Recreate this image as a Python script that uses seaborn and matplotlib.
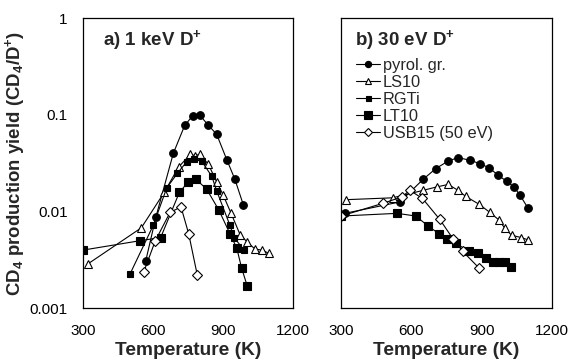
import matplotlib
matplotlib.use("Agg")
import matplotlib.pyplot as plt
from matplotlib.lines import Line2D
from matplotlib.ticker import LogLocator, NullFormatter, MultipleLocator, FixedLocator
import seaborn as sns
import pandas as pd

sns.set_theme(style="white")
plt.rcParams['font.family'] = ['Liberation Sans', 'DejaVu Sans']
plt.rcParams['mathtext.default'] = 'regular'

# ---- data: panel a) 1 keV D+ ----
a_pyrol_T = [569, 613, 687, 736, 770, 801, 836, 873, 916, 951, 987]
a_pyrol_Y = [0.0031, 0.0089, 0.040, 0.078, 0.098, 0.099, 0.079, 0.063, 0.0346, 0.0216, 0.0118]
a_ls10_T = [323, 550, 648, 710, 760, 780, 801, 837, 873, 901, 934, 973, 1002, 1037, 1068, 1097]
a_ls10_Y = [0.0029, 0.0068, 0.0158, 0.029, 0.039, 0.038, 0.039, 0.031, 0.0203, 0.0148, 0.0097,
            0.0058, 0.0049, 0.0041, 0.0040, 0.0037]
a_rgti_T = [501, 601, 659, 704, 744, 776, 809, 852, 873, 930, 948, 990]
a_rgti_Y = [0.00225, 0.0072, 0.0176, 0.0248, 0.0327, 0.0354, 0.0332, 0.0232, 0.0164, 0.0072,
            0.0054, 0.0040]
a_lt10_T = [300, 544, 633, 713, 751, 784, 830, 883, 930, 959, 980, 1004]
a_lt10_Y = [0.0040, 0.0050, 0.0054, 0.0158, 0.0203, 0.0216, 0.0171, 0.0103, 0.0059, 0.0042,
            0.0026, 0.0017]
a_usb_T = [561, 610, 673, 720, 753, 790]
a_usb_Y = [0.0024, 0.0050, 0.0098, 0.0112, 0.0059, 0.0022]

# ---- data: panel b) 30 eV D+ ----
b_pyrol_T = [317, 552, 651, 705, 758, 800, 850, 893, 933, 971, 1007, 1038, 1064, 1099]
b_pyrol_Y = [0.0096, 0.0126, 0.0216, 0.0279, 0.0334, 0.0362, 0.034, 0.0314, 0.0283, 0.0238,
             0.0206, 0.018, 0.0148, 0.0108]
b_ls10_T = [324, 521, 651, 708, 758, 800, 832, 890, 936, 974, 1000, 1028, 1068, 1099]
b_ls10_Y = [0.0133, 0.0139, 0.0166, 0.018, 0.0191, 0.0166, 0.0144, 0.0119, 0.0098, 0.0082,
            0.0067, 0.0057, 0.0054, 0.0051]
b_lt10_T = [300, 540, 620, 672, 719, 753, 789, 847, 883, 919, 950, 975, 1000, 1025]
b_lt10_Y = [0.0090, 0.0096, 0.0090, 0.0071, 0.0059, 0.0052, 0.0047, 0.0039, 0.0037, 0.0033,
            0.0030, 0.0030, 0.0030, 0.0027]
b_usb_T = [300, 480, 560, 594, 648, 722, 779, 819, 890]
b_usb_Y = [0.0090, 0.0122, 0.0142, 0.0166, 0.0137, 0.0083, 0.0052, 0.0039, 0.0026]

labels = ["pyrol. gr.", "LS10", "RGTi", "LT10", "USB15 (50 eV)"]
titles = ["a) 1 keV D$^{+}$", "b) 30 eV D$^{+}$"]
xticks = [300, 600, 900, 1200]
yticks = [0.001, 0.01, 0.1, 1]
ytick_labels = ["0.001", "0.01", "0.1", "1"]

styles = {
    "pyrol. gr.": dict(marker="o", markersize=5.5, markerfacecolor="black"),
    "LS10": dict(marker="^", markersize=6, markerfacecolor="white"),
    "RGTi": dict(marker="s", markersize=4.2, markerfacecolor="black"),
    "LT10": dict(marker="s", markersize=6, markerfacecolor="black"),
    "USB15 (50 eV)": dict(marker="D", markersize=5, markerfacecolor="white"),
}
legend_sizes = {"pyrol. gr.": 4.5, "LS10": 5, "RGTi": 3.6, "LT10": 5.2, "USB15 (50 eV)": 4.3}

panel_a = [(a_pyrol_T, a_pyrol_Y, "pyrol. gr."), (a_ls10_T, a_ls10_Y, "LS10"),
           (a_rgti_T, a_rgti_Y, "RGTi"), (a_lt10_T, a_lt10_Y, "LT10"),
           (a_usb_T, a_usb_Y, "USB15 (50 eV)")]
panel_b = [(b_pyrol_T, b_pyrol_Y, "pyrol. gr."), (b_ls10_T, b_ls10_Y, "LS10"),
           (b_lt10_T, b_lt10_Y, "LT10"), (b_usb_T, b_usb_Y, "USB15 (50 eV)")]

fig = plt.figure(figsize=(5.7, 3.6), dpi=100)
ax1 = fig.add_axes([0.1456, 0.1436, 0.3684, 0.8056])
ax2 = fig.add_axes([0.598, 0.1436, 0.3702, 0.8056])

for ax, series, title, tx in [(ax1, panel_a, titles[0], 0.095), (ax2, panel_b, titles[1], 0.066)]:
    for T, Y, name in series:
        df = pd.DataFrame({"T": T, "Y": Y})
        sns.lineplot(data=df, x="T", y="Y", ax=ax, sort=False, estimator=None,
                     color="black", linewidth=0.8, markeredgecolor="black",
                     markeredgewidth=0.8, **styles[name])
    ax.set_yscale("log")
    ax.set_xlim(300, 1200)
    ax.set_ylim(0.001, 1)
    ax.xaxis.set_major_locator(FixedLocator(xticks))
    ax.xaxis.set_minor_locator(MultipleLocator(100))
    ax.yaxis.set_major_locator(FixedLocator(yticks))
    ax.yaxis.set_minor_locator(LogLocator(base=10, subs=range(2, 10)))
    ax.yaxis.set_minor_formatter(NullFormatter())
    ax.set_xticklabels([str(t) for t in xticks])
    ax.tick_params(which="both", direction="in", top=False, right=False,
                   labelsize=11, colors="black")
    ax.tick_params(axis="x", pad=11)
    ax.tick_params(axis="y", pad=11)
    ax.tick_params(which="major", length=4, width=0.8)
    ax.tick_params(which="minor", length=2.5, width=0.8)
    for s in ax.spines.values():
        s.set_color("black")
        s.set_linewidth(0.9)
    ax.set_xlabel("Temperature (K)", fontsize=13.8, fontweight="bold", labelpad=3)
    ax.set_ylabel("")
    ax.text(tx, 0.965, title, transform=ax.transAxes, fontsize=13.5,
            fontweight="bold", va="top", ha="left")

ax1.set_yticklabels(ytick_labels)
ax2.set_yticklabels([])
ax1.set_ylabel("CD$_4$ production yield (CD$_4$/D$^{+}$)", fontsize=13.4,
               fontweight="bold")
ax1.yaxis.set_label_coords(-0.265, 0.5)

handles = []
for name in labels:
    st = dict(styles[name])
    st["markersize"] = legend_sizes[name]
    handles.append(Line2D([], [], color="black", linewidth=0.8, markeredgecolor="black",
                          markeredgewidth=0.8, **st))
ax2.legend(handles, labels, loc="upper left", bbox_to_anchor=(0.055, 0.875),
           frameon=False, fontsize=11.8, handlelength=1.5, handletextpad=0.15,
           labelspacing=0.12, borderpad=0.2, borderaxespad=0)

fig.savefig("out.png", dpi=100)
